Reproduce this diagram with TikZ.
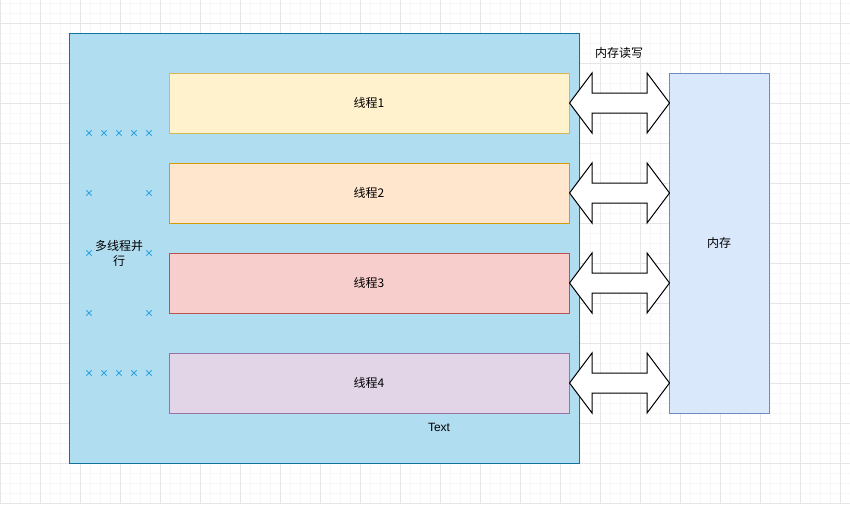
\documentclass[tikz,border=0pt]{standalone}
\usepackage{fontspec}
\setmainfont{Liberation Sans}
\newfontfamily\cjk{Noto Sans CJK SC}
\usetikzlibrary{shapes.misc}
\definecolor{outerfill}{HTML}{B1DDF0}
\definecolor{outerline}{HTML}{10739E}
\definecolor{yelfill}{HTML}{FFF2CC}
\definecolor{yelline}{HTML}{D6B656}
\definecolor{orgfill}{HTML}{FFE6CC}
\definecolor{orgline}{HTML}{D79B00}
\definecolor{redfill}{HTML}{F8CECC}
\definecolor{redline}{HTML}{B85450}
\definecolor{purfill}{HTML}{E1D5E7}
\definecolor{purline}{HTML}{9673A6}
\definecolor{memfill}{HTML}{DAE8FC}
\definecolor{memline}{HTML}{6C8EBF}
\definecolor{crosscol}{HTML}{2DA5E0}
\definecolor{gridminor}{HTML}{F7F7F7}
\definecolor{gridmajor}{HTML}{E6E6E6}
\tikzset{
  box/.style     = {line width=0.75pt, inner sep=0pt,
                    font=\cjk\fontsize{9}{11.25}\selectfont},
  outer/.style   = {box, fill=outerfill, draw=outerline,
                    minimum width=382.5pt, minimum height=322.5pt},
  thread/.style  = {box, minimum width=300pt, minimum height=45pt},
  mem/.style     = {box, fill=memfill, draw=memline,
                    minimum width=75pt, minimum height=255pt},
  rw/.style      = {draw=black, fill=white, line width=0.75pt, line join=miter},
  xmark/.style   = {cross out, draw=crosscol, line width=0.6pt,
                    minimum size=3.4pt, inner sep=0pt},
  lbl/.style     = {inner sep=0pt, font=\cjk\fontsize{9}{11.25}\selectfont},
  gmin/.style    = {draw=gridminor, line width=0.5pt},
  gmaj/.style    = {draw=gridmajor, line width=0.6pt},
}

\begin{document}
\begin{tikzpicture}[x=0.75pt, y=-0.75pt]
  \useasboundingbox (0,0) rectangle (850,504);
  % grid paper
  \foreach \gx in {0,10,...,850} \draw[gmin] (\gx,0) -- (\gx,504);
  \foreach \gy in {3,13,...,503} \draw[gmin] (0,\gy) -- (850,\gy);
  \foreach \gx in {0,40,...,840} \draw[gmaj] (\gx,0) -- (\gx,504);
  \foreach \gy in {23,63,...,503} \draw[gmaj] (0,\gy) -- (850,\gy);

  \node[outer] at (324,248) (pool) {};

  \node[thread, fill=yelfill, draw=yelline] at (369,103) (t1) {线程1};
  \node[thread, fill=orgfill, draw=orgline] at (369,193) (t2) {线程2};
  \node[thread, fill=redfill, draw=redline] at (369,283) (t3) {线程3};
  \node[thread, fill=purfill, draw=purline] at (369,383) (t4) {线程4};

  \node[mem] at (719,243) (mem) {内存};

  \node[lbl] at (619,53)  (rwlbl)   {内存读写};
  \node[lbl, font=\fontsize{9}{11.25}\selectfont] at (439,427) (txt) {Text};
  \node[lbl, align=center] at (119,253) (multi) {多线程并\\行};

  % crosses around the label
  \foreach \cx in {89,104,119,134,149} {
    \node[xmark] at (\cx,133) (xt\cx) {};
    \node[xmark] at (\cx,373) (xb\cx) {};
  }
  \foreach \cy in {193,253,313} {
    \node[xmark] at (89,\cy)  (xl\cy) {};
    \node[xmark] at (149,\cy) (xr\cy) {};
  }

  % read/write arrows between threads and memory
  \foreach \i in {1,2,3,4}
    \draw[rw] (t\i.east) -- ++(22.5,-30) -- ++(0,20) -- ++(55,0) -- ++(0,-20)
      -- ++(22.5,30) -- ++(-22.5,30) -- ++(0,-20) -- ++(-55,0) -- ++(0,20) -- cycle;
\end{tikzpicture}
\end{document}
